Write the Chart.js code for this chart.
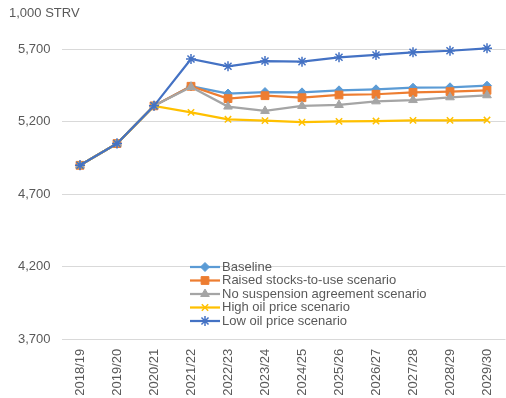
<!DOCTYPE html>
<html lang="en">
<head>
    <meta charset="UTF-8">
    <title>Production Scenarios</title>
    <script src="https://cdn.jsdelivr.net/npm/chart.js"></script>
    <style>
        body {
            margin: 0;
            padding: 0;
            background-color: #fff;
            overflow: hidden;
        }

        .chart-wrapper {
            position: absolute;
            top: 0;
            left: 0;
            width: 512px;
            height: 398px;
        }
    </style>
</head>
<body>

    <div class="chart-wrapper">
        <canvas id="scenarioChart"></canvas>
    </div>

    <script>
        const years = ['2018/19', '2019/20', '2020/21', '2021/22', '2022/23', '2023/24',
                       '2024/25', '2025/26', '2026/27', '2027/28', '2028/29', '2029/30'];

        const baseline   = [4900, 5050, 5310, 5445, 5395, 5405, 5403, 5417, 5424, 5435, 5438, 5449];
        const raisedStu  = [4900, 5050, 5310, 5445, 5360, 5380, 5366, 5385, 5390, 5403, 5408, 5417];
        const noSuspend  = [4900, 5050, 5310, 5440, 5305, 5275, 5309, 5316, 5341, 5350, 5369, 5383];
        const highOil    = [4900, 5050, 5310, 5265, 5217, 5208, 5197, 5203, 5205, 5210, 5210, 5212];
        const lowOil     = [4900, 5050, 5310, 5633, 5583, 5619, 5615, 5645, 5661, 5679, 5690, 5707];

        const yTicks = [3700, 4200, 4700, 5200, 5700];

        const font = "'Liberation Sans', Arial, sans-serif";
        const textColor = '#595959';

        // legend drawn over the plot area, below the lines
        const insetLegend = {
            id: 'insetLegend',
            afterDraw(chart, args, opts) {
                const ctx = chart.ctx;
                ctx.save();
                ctx.font = opts.fontSize + 'px ' + font;
                ctx.textBaseline = 'middle';
                ctx.textAlign = 'left';
                chart.data.datasets.forEach((ds, i) => {
                    const y = opts.y + i * opts.rowHeight;
                    const x0 = opts.x;
                    const x1 = opts.x + opts.lineLength;
                    ctx.strokeStyle = ds.borderColor;
                    ctx.lineWidth = ds.borderWidth;
                    ctx.beginPath();
                    ctx.moveTo(x0, y);
                    ctx.lineTo(x1, y);
                    ctx.stroke();
                    ctx.fillStyle = ds.pointBackgroundColor;
                    ctx.strokeStyle = ds.pointBorderColor;
                    ctx.lineWidth = ds.pointBorderWidth;
                    Chart.helpers.drawPoint(ctx, {
                        pointStyle: ds.pointStyle,
                        radius: ds.pointRadius,
                        rotation: 0,
                        borderWidth: ds.pointBorderWidth
                    }, (x0 + x1) / 2, y);
                    ctx.fillStyle = textColor;
                    ctx.fillText(ds.label, x1 + 2, y);
                });
                ctx.restore();
            }
        };

        function series(label, data, color, style, radius, order) {
            const filled = style === 'rectRot' || style === 'rect' || style === 'triangle';
            return {
                label: label,
                data: data,
                borderColor: color,
                borderWidth: 2.25,
                pointStyle: style,
                pointRadius: radius,
                pointBackgroundColor: color,
                pointBorderColor: color,
                pointBorderWidth: filled ? 1 : 1.5,
                fill: false,
                tension: 0,
                order: order
            };
        }

        const ctx = document.getElementById('scenarioChart').getContext('2d');
        new Chart(ctx, {
            type: 'line',
            data: {
                labels: years,
                datasets: [
                    series('Baseline', baseline, '#5B9BD5', 'rectRot', 4.5, 4),
                    series('Raised stocks-to-use scenario', raisedStu, '#ED7D31', 'rect', 5.5, 3),
                    series('No suspension agreement scenario', noSuspend, '#A5A5A5', 'triangle', 5, 2),
                    series('High oil price scenario', highOil, '#FFC000', 'crossRot', 4.5, 1),
                    series('Low oil price scenario', lowOil, '#4472C4', 'star', 5, 0)
                ]
            },
            plugins: [insetLegend],
            options: {
                responsive: true,
                maintainAspectRatio: false,
                animation: false,
                layout: { padding: { left: 9, right: 2.3, top: 0, bottom: 0 } },
                plugins: {
                    legend: { display: false },
                    tooltip: { enabled: false },
                    title: {
                        display: true,
                        text: '1,000 STRV',
                        align: 'start',
                        color: textColor,
                        font: { family: font, size: 13, weight: 'normal' },
                        padding: { top: 5.5, bottom: 13.7 }
                    },
                    insetLegend: { x: 190, y: 267, rowHeight: 13.5, lineLength: 30, fontSize: 13 }
                },
                scales: {
                    x: {
                        offset: true,
                        grid: { display: false },
                        border: { display: false },
                        ticks: {
                            color: textColor,
                            font: { family: font, size: 13 },
                            minRotation: 90,
                            maxRotation: 90,
                            autoSkip: false,
                            padding: 1.5
                        },
                        afterFit: scale => { scale.height = 58.7; }
                    },
                    y: {
                        min: 3700,
                        max: 5800,
                        border: { display: false },
                        grid: { color: '#D9D9D9', lineWidth: 1, drawTicks: false },
                        afterBuildTicks: scale => {
                            scale.ticks = yTicks.map(v => ({ value: v }));
                        },
                        ticks: {
                            color: textColor,
                            font: { family: font, size: 13 },
                            padding: 11,
                            callback: v => v.toLocaleString('en-US')
                        },
                        afterFit: scale => { scale.width = 52.5; }
                    }
                }
            }
        });
    </script>
</body>
</html>
